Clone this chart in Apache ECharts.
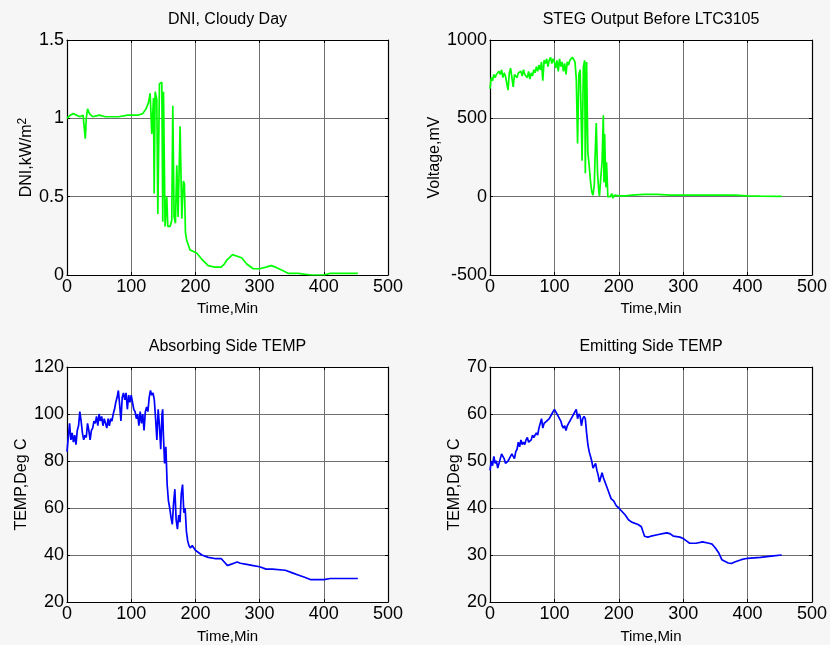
<!DOCTYPE html>
<html lang="en">
<head>
    <meta charset="UTF-8">
    <title>STEG cloudy day</title>
    <script src="https://cdn.jsdelivr.net/npm/echarts@6/dist/echarts.min.js"></script>
    <style>
        body {
            margin: 0;
            padding: 0;
            background-color: #f6f6f6;
        }
        #chartContainer {
            width: 830px;
            height: 645px;
        }
    </style>
</head>
<body>
    <div id="chartContainer"></div>

    <script>
        // x axis ticks (minutes)
        const timeTicks = [0, 100, 200, 300, 400, 500];

        // DNI, cloudy day (kW/m2)
        const dniTime = [0, 3, 5, 10, 15, 20, 25, 27, 28.5, 30, 32, 35, 40, 50, 60, 80, 95, 100, 110, 118, 123, 127, 129.5, 132.1, 134.7, 135.8, 137.3, 139.9, 141.5, 144, 147.7, 149.2, 150.3, 152.8, 155.4, 157, 160.6, 163.2, 164.8, 166.8, 168.9, 171, 173, 176.2, 178.8, 181.3, 182.9, 184.5, 186.5, 191.7, 196.9, 202, 210, 220, 230, 240, 245, 250, 258, 265, 272, 280, 290, 300, 310, 318, 325, 335, 345, 360, 380, 400, 410, 430, 453];
        const dniValue = [1.0, 1.01, 1.02, 1.03, 1.02, 1.01, 1.02, 1.02, 0.87, 1.0, 1.06, 1.03, 1.01, 1.02, 1.01, 1.01, 1.02, 1.02, 1.02, 1.03, 1.06, 1.1, 1.16, 0.9, 1.13, 0.52, 1.17, 1.12, 0.39, 1.22, 1.23, 0.34, 1.17, 0.31, 0.5, 0.31, 0.31, 0.35, 1.08, 0.37, 0.33, 0.7, 0.37, 0.95, 0.36, 0.6, 0.58, 0.27, 0.22, 0.16, 0.15, 0.14, 0.1, 0.06, 0.05, 0.05, 0.07, 0.1, 0.13, 0.12, 0.11, 0.07, 0.04, 0.04, 0.05, 0.06, 0.05, 0.03, 0.01, 0.01, 0.0, 0.0, 0.01, 0.01, 0.01];

        // STEG output voltage (mV)
        const stegTime = [0, 2, 4, 6, 8, 10, 12, 14, 16, 18, 20, 22, 24, 26, 28, 30, 32, 34, 36, 38, 40, 42, 44, 46, 48, 50, 52, 54, 56, 58, 60, 62, 64, 66, 68, 70, 72, 74, 76, 78, 80, 82, 84, 86, 88, 90, 92, 94, 96, 98, 100, 102, 104, 106, 108, 110, 112, 114, 116, 118, 120, 122, 124, 126, 128, 130, 132, 134, 136, 138, 140, 142, 143, 145, 147, 148, 150, 151, 152, 154, 156, 158, 160, 162, 163, 165, 167, 169, 170, 172, 174, 176, 177, 178, 180, 181, 183, 185, 187, 189, 191, 193, 195, 200, 210, 220, 240, 250, 260, 280, 300, 330, 360, 380, 400, 420, 453];
        const stegValue = [690, 760, 740, 780, 760, 780, 770, 800, 780, 810, 760, 790, 770, 780, 680, 790, 820, 760, 700, 780, 790, 760, 790, 780, 800, 770, 810, 780, 790, 760, 800, 750, 790, 770, 810, 790, 830, 800, 840, 810, 860, 740, 870, 850, 880, 830, 870, 890, 850, 880, 860, 820, 870, 800, 880, 830, 860, 800, 850, 780, 860, 840, 870, 860, 890, 880, 860, 750, 340, 780, 810, 820, 230, 830, 870, 150, 860, 570, 280, 200, 100, 30, 10, 80, 230, 470, 150, 30, 5, 120, 220, 520, 90, 400, 60, 220, 0, 10, 0, 20, -10, 10, 0, 5, 5, 10, 15, 15, 15, 10, 10, 10, 10, 10, 5, 3, 2];

        // absorbing side temperature (deg C)
        const absTime = [0, 2, 4, 6, 8, 10, 12, 14, 16, 18, 20, 22, 24, 26, 28, 30, 32, 34, 36, 38, 40, 42, 44, 46, 48, 50, 52, 54, 56, 58, 60, 62, 64, 66, 68, 70, 72, 74, 76, 78, 80, 82, 84, 86, 88, 90, 92, 94, 96, 98, 100, 102, 104, 106, 108, 110, 112, 114, 116, 118, 120, 122, 124, 126, 128, 130, 132, 134, 136, 138, 140, 142, 144, 146, 148, 149, 150, 152, 154, 156, 158, 160, 162, 164, 166, 168, 170, 172, 174, 176, 178, 180, 182, 184, 186, 188, 190, 192, 195, 200, 210, 220, 230, 240, 245, 250, 255, 260, 265, 270, 280, 290, 300, 310, 320, 340, 350, 360, 370, 380, 400, 410, 453];
        const absValue = [84, 90, 96, 89, 92, 88, 91, 87, 93, 95, 101, 97, 92, 89, 91, 90, 96, 93, 89, 93, 94, 97, 96, 99, 95, 100, 97, 99, 95, 98, 96, 94, 98, 95, 98, 97, 100, 102, 105, 107, 110, 104, 97, 107, 109, 106, 109, 102, 108, 105, 108, 105, 102, 101, 98, 100, 95, 101, 96, 100, 93, 101, 103, 101, 107, 110, 108, 109, 106, 98, 89, 102, 95, 85, 100, 102, 92, 79, 86, 70, 63, 60, 56, 53, 62, 68, 55, 51, 57, 54, 66, 70, 58, 60, 50, 46, 44, 43, 44, 42, 40, 39, 38.5, 38.5, 37, 35.5, 36, 36.5, 37, 36.5, 36, 35.5, 35, 34, 34, 33.5, 32.5, 31.5, 30.5, 29.5, 29.5, 30, 30];

        // emitting side temperature (deg C)
        const emiTime = [0, 2, 4, 6, 8, 10, 12, 14, 16, 18, 20, 22, 24, 26, 28, 30, 34, 36, 38, 40, 42, 44, 46, 48, 50, 52, 54, 56, 58, 60, 62, 64, 66, 68, 70, 72, 74, 76, 78, 80, 82, 84, 86, 88, 90, 92, 94, 96, 98, 100, 102, 104, 106, 108, 110, 112, 114, 116, 118, 120, 122, 124, 126, 128, 130, 132, 134, 136, 138, 140, 142, 144, 146, 148, 150, 152, 154, 156, 158, 160, 162, 164, 166, 168, 170, 172, 174, 176, 178, 180, 184, 188, 192, 196, 200, 210, 215, 220, 230, 235, 240, 245, 250, 260, 270, 275, 280, 285, 295, 300, 305, 310, 320, 330, 340, 345, 350, 355, 360, 370, 375, 380, 390, 400, 420, 440, 453];
        const emiValue = [48, 50, 49, 51, 49.5, 50, 48.5, 49.5, 50.5, 51.5, 51, 50.5, 49.5, 49.5, 50, 50.5, 51.5, 51, 50.5, 52, 52.5, 54, 53, 54.5, 53.5, 54, 53.5, 54.5, 55, 54, 54, 54.5, 55.5, 55, 55.5, 56, 55.5, 57, 58, 59, 57, 58, 58, 58.5, 58.5, 59, 59, 60, 60.5, 61, 60.5, 60, 59.5, 59.5, 58.5, 57.5, 57, 57.5, 56.5, 57.5, 58, 58.5, 58.5, 59.5, 60, 60.5, 61, 59, 60, 59.5, 57.5, 59, 59.5, 59, 56, 53.5, 52, 51, 50, 48.5, 48.5, 49.5, 48, 47, 45.5, 45.5, 47.5, 46.5, 46.5, 45, 43.5, 42, 41.5, 40.5, 40, 38.5, 37.5, 37, 36.5, 36, 34, 33.8, 34, 34.3, 34.6, 34.7, 34.5, 34, 33.8, 33.5, 33, 32.5, 32.5, 32.8, 32.5, 32.3, 31.5, 30.5, 29, 28.3, 28.2, 28.5, 29, 29.3, 29.5, 29.8, 30];

        const fontFamily = 'Liberation Sans, Arial, sans-serif';

        // panel layouts (pixels)
        const panels = [
            { left: 67, top: 40, width: 321, height: 235, title: 'DNI, Cloudy Day', yName: 'DNI,kW/m{sup|2}', yMin: 0, yMax: 1.5, yStep: 0.5, nameGap: 30, xNameGap: 26, time: dniTime, value: dniValue, color: '#00ff00' },
            { left: 490, top: 40, width: 322, height: 235, title: 'STEG Output Before LTC3105', yName: 'Voltage,mV', yMin: -500, yMax: 1000, yStep: 500, nameGap: 43, xNameGap: 26, time: stegTime, value: stegValue, color: '#00ff00' },
            { left: 67, top: 367, width: 321, height: 235, title: 'Absorbing Side TEMP', yName: 'TEMP,Deg C', yMin: 20, yMax: 120, yStep: 20, nameGap: 37, xNameGap: 27, time: absTime, value: absValue, color: '#0000ff' },
            { left: 490, top: 367, width: 322, height: 235, title: 'Emitting Side TEMP', yName: 'TEMP,Deg C', yMin: 20, yMax: 70, yStep: 10, nameGap: 26, xNameGap: 27, time: emiTime, value: emiValue, color: '#0000ff' }
        ];

        const chart = echarts.init(document.getElementById('chartContainer'));

        const grid = [], xAxis = [], yAxis = [], series = [], title = [];
        const splitStyle = { show: true, lineStyle: { color: '#707070', width: 1 } };
        const boxLine = { show: true, onZero: false, lineStyle: { color: '#000', width: 1.2 } };
        const tickIn = { show: true, inside: true, length: 3, lineStyle: { color: '#000' } };

        panels.forEach((p, i) => {
            grid.push({ left: p.left, top: p.top, width: p.width, height: p.height, backgroundColor: '#fff', show: true, borderWidth: 0 });
            title.push({
                text: p.title,
                left: p.left + p.width / 2 - 5,
                top: p.top - 33,
                textAlign: 'center',
                textStyle: { fontFamily: fontFamily, fontSize: 16, fontWeight: 'normal', color: '#000' }
            });
            xAxis.push({
                type: 'value', gridIndex: i, min: 0, max: 500, interval: 100,
                position: 'bottom',
                name: 'Time,Min', nameLocation: 'middle', nameGap: p.xNameGap,
                nameTextStyle: { fontFamily: fontFamily, fontSize: 15, color: '#000' },
                axisLine: boxLine, axisTick: tickIn,
                axisLabel: { fontFamily: fontFamily, fontSize: 18, color: '#000', margin: 3, formatter: v => String(v) },
                splitLine: splitStyle
            });
            xAxis.push({
                type: 'value', gridIndex: i, min: 0, max: 500, interval: 100,
                position: 'top', axisLine: boxLine, axisTick: tickIn,
                axisLabel: { show: false }, splitLine: { show: false }
            });
            yAxis.push({
                type: 'value', gridIndex: i, min: p.yMin, max: p.yMax, interval: p.yStep,
                position: 'left',
                name: p.yName, nameLocation: 'middle', nameGap: p.nameGap,
                nameTextStyle: {
                    fontFamily: fontFamily, fontSize: 16, color: '#000',
                    rich: { sup: { fontFamily: fontFamily, fontSize: 12, color: '#000', verticalAlign: 'top', padding: [0, 0, 8, 0] } }
                },
                axisLine: boxLine, axisTick: tickIn,
                axisLabel: { fontFamily: fontFamily, fontSize: 18, color: '#000', margin: 3, formatter: v => String(v) },
                splitLine: splitStyle
            });
            yAxis.push({
                type: 'value', gridIndex: i, min: p.yMin, max: p.yMax, interval: p.yStep,
                position: 'right', axisLine: boxLine, axisTick: tickIn,
                axisLabel: { show: false }, splitLine: { show: false }
            });
            series.push({
                type: 'line',
                xAxisIndex: i * 2,
                yAxisIndex: i * 2,
                data: p.time.map((t, k) => [t, p.value[k]]),
                showSymbol: false,
                lineStyle: { color: p.color, width: 1.7 },
                z: 3
            });
        });

        chart.setOption({
            animation: false,
            backgroundColor: '#f6f6f6',
            title: title,
            grid: grid,
            xAxis: xAxis,
            yAxis: yAxis,
            series: series
        });
    </script>
</body>
</html>
